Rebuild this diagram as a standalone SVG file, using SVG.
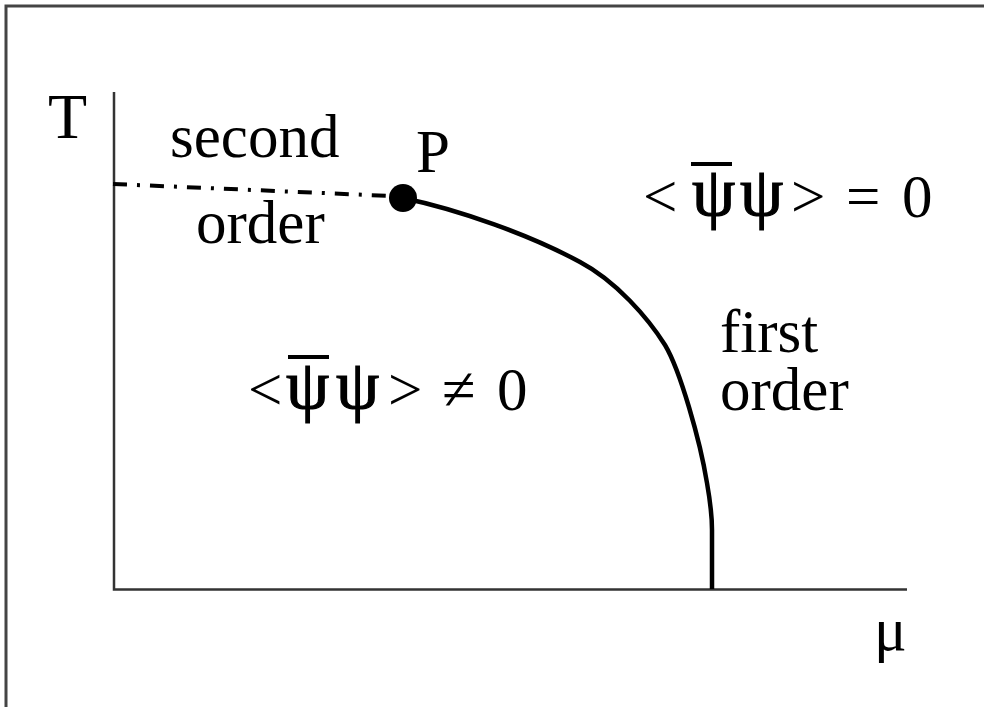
<svg xmlns="http://www.w3.org/2000/svg" width="984" height="707" viewBox="0 0 984 707">
<style>
  .t { font-family: "Liberation Serif", "DejaVu Serif", serif; font-size: 61px; fill: #000; }
  .psi { font-size: 69px; stroke: #000; stroke-width: 1.2; }
  .axis { stroke: #333; stroke-width: 2.5; fill: none; }
  .frame { stroke: #444; stroke-width: 3; fill: none; }
  .bar { stroke: #000; stroke-width: 4; }
</style>
<rect width="984" height="707" fill="#fff"/>
<path class="frame" d="M6,707 V6 H984"/>
<g id="axes">
  <path class="axis" d="M114,92 V589.5 H907"/>
  <text class="t" x="48" y="138" style="font-size:64px">T</text>
  <text class="t" x="874" y="650">μ</text>
</g>
<g id="connectors">
  <path d="M113,184 L392,196" stroke="#000" stroke-width="4" stroke-dasharray="14 10 3 10" fill="none"/>
  <path d="M403,198 C460,210 530,235 580,262 C616,281 648,318 665,345 C680,370 700,440 707,483 C710,500 712,515 712,530 L712,589" stroke="#000" stroke-width="4.5" fill="none"/>
</g>
<g id="P">
  <circle cx="403" cy="198" r="14" fill="#000"/>
  <text class="t" x="416" y="172">P</text>
</g>
<g id="second-order">
  <text class="t" x="170" y="157">second</text>
  <text class="t" x="196" y="243">order</text>
</g>
<g id="first-order">
  <text class="t" x="720" y="352">first</text>
  <text class="t" x="720" y="410">order</text>
</g>
<g id="broken-phase">
  <text class="t" y="410"><tspan x="248">&lt;</tspan><tspan x="442">≠</tspan><tspan x="497">0</tspan></text>
  <text class="t" y="410"><tspan x="388">&gt;</tspan></text>
  <text class="t psi" y="408"><tspan x="286">ψ</tspan><tspan x="336">ψ</tspan></text>
  <line class="bar" x1="288" y1="357" x2="329" y2="357"/>
</g>
<g id="symmetric-phase">
  <text class="t" y="217"><tspan x="643">&lt;</tspan><tspan x="791">&gt;</tspan><tspan x="846">=</tspan><tspan x="902">0</tspan></text>
  <text class="t psi" y="215"><tspan x="692">ψ</tspan><tspan x="740">ψ</tspan></text>
  <line class="bar" x1="691" y1="164" x2="732" y2="164"/>
</g>
</svg>
